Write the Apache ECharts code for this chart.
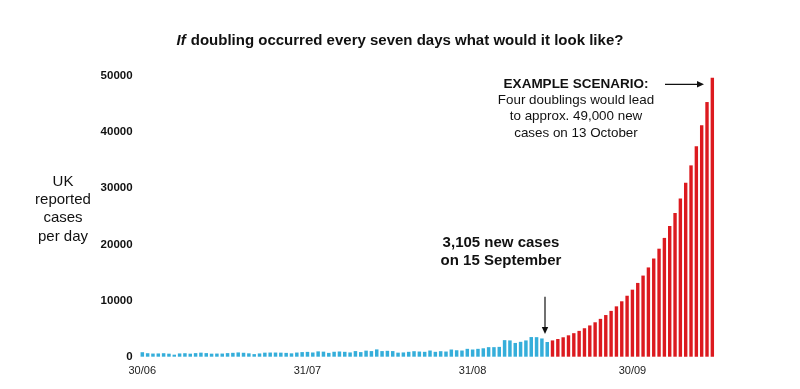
<!DOCTYPE html>
<html><head><meta charset="utf-8">
<script src="https://cdn.jsdelivr.net/npm/echarts@6/dist/echarts.min.js"></script>
<style>html,body{margin:0;padding:0;background:#fff}#c{width:800px;height:389px}</style>
</head><body><div id="c"></div>
<script>
// Observed daily cases 30/06 – 14/09 (blue)
const blueValues = [
  800, 620, 560, 580, 620, 540, 360, 580, 620, 540,
  640, 720, 640, 540, 560, 560, 640, 690, 760, 700,
  600, 460, 580, 720, 740, 740, 720, 680, 600, 740,
  820, 860, 750, 950, 900, 680, 880, 930, 870, 760,
  1000, 820, 1080, 1000, 1300, 1000, 1050, 1000, 720, 760,
  870, 980, 920, 870, 1100, 870, 980, 920, 1280, 1150,
  1100, 1400, 1280, 1400, 1500, 1700, 1700, 1750, 2950, 2900,
  2450, 2650, 2900, 3500, 3480, 3250, 2620
];
// Example scenario 15/09 onward (red)
const redValues = [
  2900, 3150, 3460, 3810, 4190, 4600, 5070, 5570, 6130, 6740,
  7420, 8160, 8970, 9870, 10860, 11940, 13140, 14450, 15900, 17490,
  19240, 21160, 23280, 25600, 28160, 30980, 34080, 37490, 41230, 45360,
  49700
];
const tickLabels = ['30/06', '31/07', '31/08', '30/09'];
const yMin = 0, yMax = 50000, yStep = 10000;

// categories: consecutive days starting 30/06/2020
const categories = [];
const total = blueValues.length + redValues.length;
for (let i = 0; i < total; i++) {
  const d = new Date(2020, 5, 30 + i);
  categories.push(String(d.getDate()).padStart(2, '0') + '/' + String(d.getMonth() + 1).padStart(2, '0'));
}
const blueData = categories.map((c, i) => i < blueValues.length ? blueValues[i] : null);
const redData = categories.map((c, i) => i >= blueValues.length ? redValues[i - blueValues.length] : null);

const FF = '"Liberation Sans", Arial, sans-serif';
const chart = echarts.init(document.getElementById('c'), null, {renderer: 'canvas'});
chart.setOption({
  animation: false,
  backgroundColor: '#fff',
  title: {
    text: '{i|If} {b|doubling occurred every seven days what would it look like?}',
    left: 'center', top: 27,
    textStyle: {
      rich: {
        i: {fontFamily: FF, fontSize: 15, fontWeight: 'bold', fontStyle: 'italic', color: '#111'},
        b: {fontFamily: FF, fontSize: 15, fontWeight: 'bold', color: '#111'}
      }
    }
  },
  grid: {left: 139.6, right: 85, top: 76, bottom: 32.3, containLabel: false},
  xAxis: {
    type: 'category', data: categories, boundaryGap: true,
    axisLine: {show: false}, axisTick: {show: false},
    axisLabel: {
      interval: (idx, val) => tickLabels.includes(val),
      fontFamily: FF, fontSize: 11, color: '#222', margin: 9
    }
  },
  yAxis: {
    type: 'value', min: yMin, max: yMax, interval: yStep,
    splitLine: {show: false}, axisLine: {show: false}, axisTick: {show: false},
    axisLabel: {formatter: v => String(v), fontFamily: FF, fontSize: 11.5, fontWeight: 'bold', color: '#111', margin: 7}
  },
  series: [
    {type: 'bar', data: blueData, barWidth: 3.5, barGap: '-100%', itemStyle: {color: '#35AEDA'}},
    {type: 'bar', data: redData, barWidth: 3.4, barGap: '-100%', itemStyle: {color: '#DC1A1F'}}
  ],
  graphic: [
    {type: 'text', x: 63, y: 172.5, style: {text: 'UK\nreported\ncases\nper day', align: 'center', verticalAlign: 'top', textAlign: 'center', textVerticalAlign: 'top', font: '15px ' + FF, lineHeight: 18.3, fill: '#111'}},
    {type: 'text', x: 501, y: 234.6, style: {text: '3,105 new cases\non 15 September', align: 'center', verticalAlign: 'top', textAlign: 'center', textVerticalAlign: 'top', font: 'bold 15px ' + FF, lineHeight: 17.4, fill: '#111'}},
    {type: 'line', shape: {x1: 545, y1: 296.7, x2: 545, y2: 328}, style: {stroke: '#111', lineWidth: 1.2}},
    {type: 'polygon', shape: {points: [[541.8, 327], [548.2, 327], [545, 334]]}, style: {fill: '#111'}},
    {type: 'text', x: 576, y: 84, style: {text: 'EXAMPLE SCENARIO:', align: 'center', verticalAlign: 'middle', textAlign: 'center', textVerticalAlign: 'middle', font: 'bold 13.5px ' + FF, fill: '#111'}},
    {type: 'text', x: 576, y: 92.2, style: {text: 'Four doublings would lead\nto approx. 49,000 new\ncases on 13 October', align: 'center', verticalAlign: 'top', textAlign: 'center', textVerticalAlign: 'top', font: '13.4px ' + FF, lineHeight: 16.3, fill: '#111'}},
    {type: 'line', shape: {x1: 665, y1: 84.3, x2: 698, y2: 84.3}, style: {stroke: '#111', lineWidth: 1.2}},
    {type: 'polygon', shape: {points: [[697, 81], [697, 87.6], [704, 84.3]]}, style: {fill: '#111'}}
  ]
});
</script>
</body></html>
